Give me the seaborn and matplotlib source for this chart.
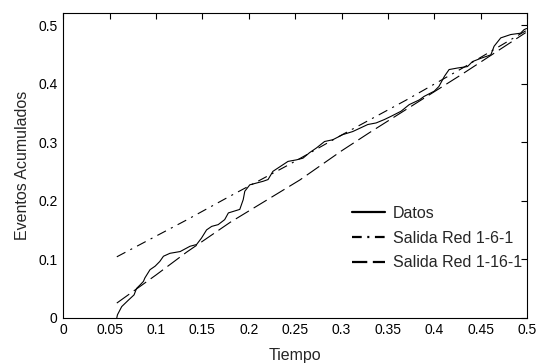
import numpy as np
import pandas as pd
import matplotlib
matplotlib.use("Agg")
import matplotlib.pyplot as plt
import seaborn as sns

# ---- data ----
datos_t = [0.0577, 0.0584, 0.063, 0.0702, 0.0763, 0.079, 0.0828, 0.0864, 0.088, 0.0935,
           0.099, 0.104, 0.108, 0.115, 0.126, 0.1366, 0.1437, 0.149, 0.1545, 0.160,
           0.167, 0.174, 0.178, 0.1903, 0.194, 0.1957, 0.2011, 0.2154, 0.2208, 0.226,
           0.2423, 0.2513, 0.2584, 0.2656, 0.273, 0.2817, 0.2906, 0.3014, 0.3121, 0.3283,
           0.3373, 0.3462, 0.3534, 0.3642, 0.373, 0.3839, 0.389, 0.400, 0.405, 0.411,
           0.416, 0.425, 0.4358, 0.4412, 0.450, 0.461, 0.4645, 0.4717, 0.4824, 0.493,
           0.4968, 0.4995]
datos_v = [0.000, 0.005, 0.019, 0.030, 0.039, 0.050, 0.056, 0.062, 0.068, 0.082,
           0.088, 0.096, 0.105, 0.110, 0.113, 0.122, 0.125, 0.136, 0.150, 0.156,
           0.159, 0.1675, 0.179, 0.185, 0.2017, 0.216, 0.227, 0.233, 0.236, 0.250,
           0.267, 0.2696, 0.2725, 0.282, 0.290, 0.301, 0.304, 0.3128, 0.318, 0.330,
           0.3327, 0.3385, 0.344, 0.3527, 0.364, 0.3721, 0.378, 0.387, 0.395, 0.4125,
           0.4239, 0.4265, 0.429, 0.4375, 0.443, 0.449, 0.4637, 0.478, 0.4837, 0.486,
           0.492, 0.494]

red6_t = [0.0577, 0.133, 0.179, 0.244, 0.300, 0.370, 0.430, 0.4986]
red6_v = [0.104, 0.167, 0.207, 0.262, 0.312, 0.372, 0.426, 0.490]

red16_t = [0.0577, 0.100, 0.133, 0.180, 0.2552, 0.300, 0.330, 0.380, 0.430, 0.4986]
red16_v = [0.025, 0.073, 0.112, 0.163, 0.2354, 0.285, 0.316, 0.366, 0.416, 0.487]

labels = ["Datos", "Salida Red 1-6-1", "Salida Red 1-16-1"]
x_ticks = [0, 0.05, 0.1, 0.15, 0.2, 0.25, 0.3, 0.35, 0.4, 0.45, 0.5]
x_tick_labels = ["0", "0.05", "0.1", "0.15", "0.2", "0.25", "0.3", "0.35", "0.4", "0.45", "0.5"]
y_ticks = [0, 0.1, 0.2, 0.3, 0.4, 0.5]
y_tick_labels = ["0", "0.1", "0.2", "0.3", "0.4", "0.5"]

df = pd.concat([
    pd.DataFrame({"t": datos_t, "v": datos_v, "serie": labels[0]}),
    pd.DataFrame({"t": red6_t, "v": red6_v, "serie": labels[1]}),
    pd.DataFrame({"t": red16_t, "v": red16_v, "serie": labels[2]}),
], ignore_index=True)

sns.set_style("white")
plt.rcParams["font.family"] = ["Liberation Sans", "DejaVu Sans"]
plt.rcParams["lines.scale_dashes"] = False

fig = plt.figure(figsize=(5.37, 3.63), dpi=100)
ax = fig.add_axes([63.3 / 537, 1 - 317.7 / 363, (527 - 63.3) / 537, (317.7 - 13.3) / 363])

dashes = {labels[0]: "", labels[1]: (7, 4, 1.5, 4), labels[2]: (11, 4)}
sns.lineplot(data=df, x="t", y="v", hue="serie", style="serie",
             palette=["black"] * 3, dashes=dashes, linewidth=0.8,
             sort=False, estimator=None, ax=ax, legend=False)

ax.set_xlim(0, 0.5)
ax.set_ylim(0, 0.52)
ax.set_xticks(x_ticks)
ax.set_xticklabels(x_tick_labels)
ax.set_yticks(y_ticks)
ax.set_yticklabels(y_tick_labels)
ax.tick_params(direction="in", length=4, width=0.8, labelsize=10, colors="black",
               top=True, right=True, pad=4)
for s in ax.spines.values():
    s.set_visible(True)
    s.set_color("black")
    s.set_linewidth(0.8)
ax.set_xlabel("Tiempo", fontsize=11.5, labelpad=8)
ax.set_ylabel("Eventos Acumulados", fontsize=11.5, labelpad=6)

handles = ax.get_lines()[:3]
leg = ax.legend(handles, labels, loc="upper left",
                bbox_to_anchor=(351.7 / 537, 1 - 206 / 363), bbox_transform=fig.transFigure,
                frameon=False, fontsize=11.5, handlelength=2.1, handletextpad=0.5,
                labelspacing=0.6, borderpad=0, borderaxespad=0)
for h in leg.get_lines():
    h.set_linewidth(1.6)

fig.savefig("out.png", dpi=100, facecolor="white")
